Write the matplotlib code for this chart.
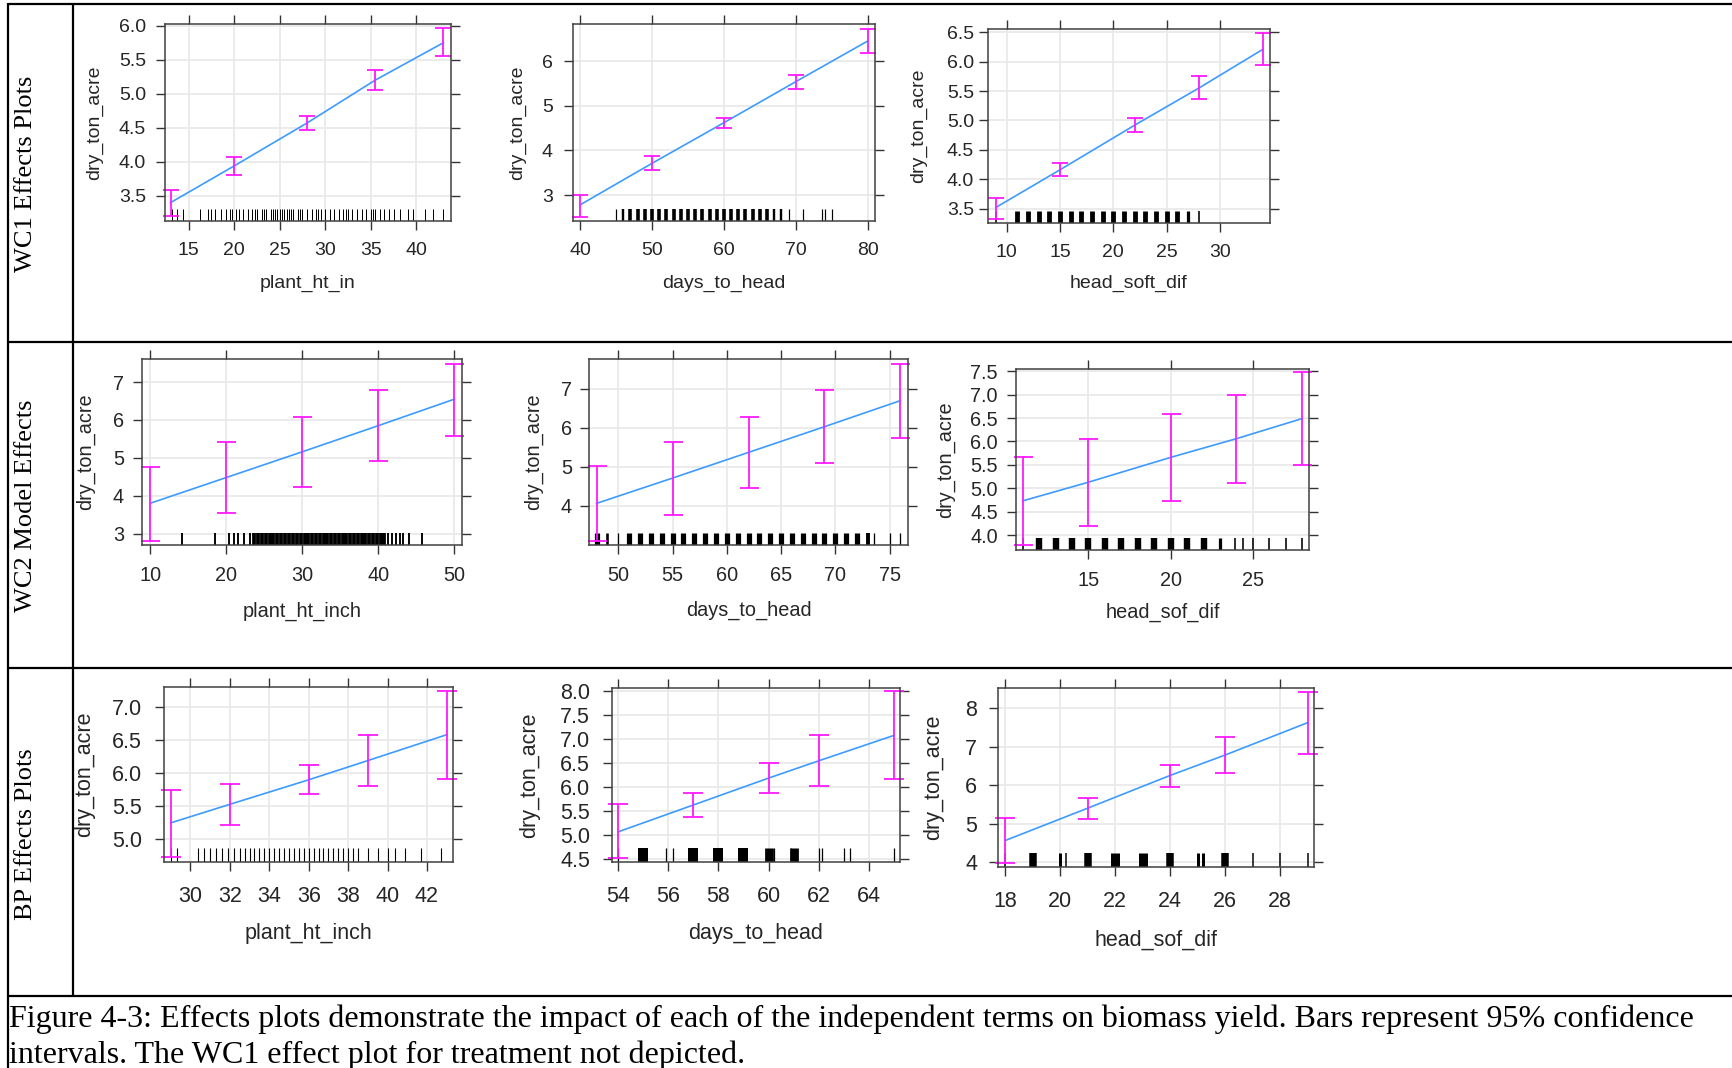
import numpy as np
import matplotlib
matplotlib.use("Agg")
import matplotlib.pyplot as plt

W, H = 1732, 1068
PX = 0.72  # points per pixel at dpi=100

# ---------------- data ----------------
# WC1
wc1_ht_x = [13, 20, 28, 35.5, 43]
wc1_ht_fit = [3.40, 3.94, 4.57, 5.20, 5.75]
wc1_ht_lo = [3.21, 3.80, 4.46, 5.05, 5.55]
wc1_ht_hi = [3.58, 4.07, 4.67, 5.35, 5.96]
wc1_ht_rug = [13.2, 13.7, 14.4, 16.2, 17.1, 17.5, 17.9, 18.5, 19.1, 19.5, 19.8, 20.2, 20.5, 21,
              21.5, 22, 22.25, 22.5, 23, 23.25, 23.5, 24, 24.25, 24.5, 24.75, 25, 25.25, 25.5,
              25.75, 26, 26.25, 26.5, 27, 27.25, 27.5, 28, 28.5, 29, 29.25, 29.5, 30, 30.5, 31,
              31.5, 32, 32.25, 32.5, 33, 33.5, 34, 34.5, 35, 35.25, 35.5, 36, 36.5, 37, 37.6,
              38.2, 39.1, 39.7, 41.0, 41.9, 43.0]

wc1_dth_x = [40, 50, 60, 70, 80]
wc1_dth_fit = [2.78, 3.71, 4.62, 5.54, 6.45]
wc1_dth_lo = [2.52, 3.56, 4.51, 5.38, 6.19]
wc1_dth_hi = [3.00, 3.87, 4.73, 5.69, 6.72]
wc1_dth_rug = [45, 46, 47, 48, 49, 50, 51, 52, 53, 54, 55, 56, 57, 58, 59, 60, 61, 62, 63,
               64, 65, 66, 67, 68, 69, 71, 73.7, 74, 75]
wc1_dth_n = [1, 2, 3, 3, 3, 3, 3, 3, 3, 3, 3, 3, 3, 3, 3, 3, 3, 3, 3,
             3, 3, 3, 2, 2, 1, 1, 1, 1, 1]

wc1_hsd_x = [9, 15, 22, 28, 34]
wc1_hsd_fit = [3.52, 4.16, 4.92, 5.55, 6.21]
wc1_hsd_lo = [3.33, 4.05, 4.80, 5.36, 5.94]
wc1_hsd_hi = [3.68, 4.27, 5.04, 5.75, 6.48]
wc1_hsd_rug = [9, 11, 12, 13, 14, 15, 16, 17, 18, 19, 20, 21, 22, 23, 24, 25, 26, 27, 28]
wc1_hsd_n = [1, 3, 3, 3, 3, 3, 3, 3, 3, 3, 3, 3, 3, 3, 3, 3, 3, 2, 1]

# WC2
wc2_ht_x = [10, 20, 30, 40, 50]
wc2_ht_fit = [3.80, 4.48, 5.16, 5.85, 6.55]
wc2_ht_lo = [2.81, 3.54, 4.23, 4.92, 5.58]
wc2_ht_hi = [4.76, 5.42, 6.08, 6.78, 7.48]
wc2_ht_rug = [14.2, 18.6, 20.4, 21.0, 21.6, 22.4, 23.1, 23.7, 24.2, 24.7, 25.2, 25.7, 26.2,
              26.7, 27.2, 27.7, 28.3, 28.8, 29.3, 29.8, 30.3, 30.8, 31.3, 31.8, 32.3, 32.8,
              33.3, 33.8, 34.3, 34.8, 35.3, 35.8, 36.3, 36.8, 37.3, 37.8, 38.3, 38.8, 39.3,
              39.8, 40.3, 40.8, 41.3, 41.8, 42.3, 42.8, 43.3, 44.0, 45.8]
wc2_ht_n = [1, 1, 1, 1, 1, 1, 1, 2, 2, 2, 2, 2, 2,
            2, 2, 2, 2, 2, 2, 2, 2, 2, 2, 2, 2, 2,
            2, 2, 2, 2, 2, 2, 2, 2, 2, 2, 2, 2, 2,
            2, 2, 2, 1, 1, 1, 1, 1, 1, 1]

wc2_dth_x = [48, 55, 62, 69, 76]
wc2_dth_fit = [4.06, 4.71, 5.37, 6.03, 6.70]
wc2_dth_lo = [3.09, 3.77, 4.45, 5.09, 5.74]
wc2_dth_hi = [5.02, 5.64, 6.29, 6.97, 7.64]
wc2_dth_rug = [48, 49, 50, 51, 52, 53, 54, 55, 56, 57, 58, 59, 60, 61, 62, 63, 64, 65, 66,
               67, 68, 69, 70, 71, 72, 73, 73.6, 75, 76]
wc2_dth_n = [4, 2, 1, 4, 4, 4, 4, 4, 4, 4, 4, 4, 4, 4, 4, 4, 4, 4, 4,
             4, 4, 4, 4, 4, 4, 3, 1, 1, 1]

wc2_hsd_x = [11, 15, 20, 24, 28]
wc2_hsd_fit = [4.73, 5.13, 5.66, 6.06, 6.49]
wc2_hsd_lo = [3.79, 4.20, 4.73, 5.11, 5.49]
wc2_hsd_hi = [5.66, 6.06, 6.58, 7.00, 7.49]
wc2_hsd_rug = [11, 12, 13, 14, 15, 16, 17, 18, 19, 20, 21, 22, 23, 23.9, 24.4, 25, 26, 27, 28]
wc2_hsd_n = [1, 4, 4, 4, 4, 4, 4, 4, 4, 4, 4, 4, 2, 1, 1, 1, 1, 1, 1]

# BP
bp_ht_x = [29, 32, 36, 39, 43]
bp_ht_fit = [5.25, 5.53, 5.90, 6.19, 6.58]
bp_ht_lo = [4.73, 5.22, 5.68, 5.81, 5.91]
bp_ht_hi = [5.74, 5.83, 6.12, 6.57, 7.24]
bp_ht_rug = [29, 29.3, 30.4, 30.7, 31, 31.3, 31.6, 31.9, 32.2, 32.5, 32.75, 33, 33.25, 33.5,
             33.75, 34, 34.25, 34.5, 34.75, 35, 35.25, 35.5, 35.75, 36, 36.25, 36.5, 36.75,
             37, 37.25, 37.5, 37.75, 38, 38.25, 38.5, 39, 39.5, 40, 40.4, 40.9, 41.7, 42.7]

bp_dth_x = [54, 57, 60, 62, 65]
bp_dth_fit = [5.06, 5.62, 6.18, 6.54, 7.07]
bp_dth_lo = [4.51, 5.37, 5.86, 6.01, 6.17]
bp_dth_hi = [5.63, 5.86, 6.50, 7.07, 7.99]
bp_dth_rug = [54, 55, 55.9, 56.2, 57, 58, 59, 60, 60.2, 60.9, 61, 62, 62.15, 63, 63.25, 65]
bp_dth_n = [1, 8, 1, 1, 8, 8, 8, 7, 1, 1, 7, 1, 1, 1, 1, 1]

bp_hsd_x = [18, 21, 24, 26, 29]
bp_hsd_fit = [4.56, 5.40, 6.25, 6.78, 7.62]
bp_hsd_lo = [3.97, 5.12, 5.96, 6.32, 6.81]
bp_hsd_hi = [5.15, 5.66, 6.53, 7.25, 8.41]
bp_hsd_rug = [18, 19, 20, 20.2, 21, 22, 23, 24, 25, 25.2, 26, 27, 28, 29]
bp_hsd_n = [1, 5, 2, 1, 5, 6, 6, 5, 2, 2, 5, 1, 1, 1]

row_labels = ["WC1 Effects Plots", "WC2 Model Effects", "BP Effects Plots"]
caption = ["Figure 4-3: Effects plots demonstrate the impact of each of the independent terms "
           "on biomass yield. Bars represent 95% confidence",
           "intervals. The WC1 effect plot for treatment not depicted."]

# ---------------- panel layout (pixel boxes: left, top, right, bottom) ----------------
row1 = dict(fs=14, cap=8, rugh=12, xpad=21)
row2 = dict(fs=14.3, cap=9.5, rugh=12, xpad=21)
row3 = dict(fs=15.5, cap=10, rugh=14, xpad=24)

panels = [
    dict(row1, d=(wc1_ht_x, wc1_ht_fit, wc1_ht_lo, wc1_ht_hi, wc1_ht_rug, None), xl="plant_ht_in",
         box=(165, 24, 451, 221), xlim=(12.39, 43.83), ylim=(3.13, 6.025),
         xt=[15, 20, 25, 30, 35, 40], yt=[3.5, 4.0, 4.5, 5.0, 5.5, 6.0],
         yld=70, xld=62, ypad=19, rugw=1.0),
    dict(row1, d=(wc1_dth_x, wc1_dth_fit, wc1_dth_lo, wc1_dth_hi, wc1_dth_rug, wc1_dth_n),
         xl="days_to_head",
         box=(573, 24, 875, 221), xlim=(39.03, 81.0), ylim=(2.42, 6.83),
         xt=[40, 50, 60, 70, 80], yt=[3, 4, 5, 6],
         yld=55, xld=62, ypad=20, rugw=1.2),
    dict(row1, d=(wc1_hsd_x, wc1_hsd_fit, wc1_hsd_lo, wc1_hsd_hi, wc1_hsd_rug, wc1_hsd_n),
         xl="head_soft_dif",
         box=(988, 29, 1270, 223), xlim=(8.26, 34.67), ylim=(3.255, 6.556),
         xt=[10, 15, 20, 25, 30], yt=[3.5, 4.0, 4.5, 5.0, 5.5, 6.0, 6.5],
         yld=69, xld=60, ypad=14, rugw=1.6),
    dict(row2, d=(wc2_ht_x, wc2_ht_fit, wc2_ht_lo, wc2_ht_hi, wc2_ht_rug, wc2_ht_n),
         xl="plant_ht_inch",
         box=(142, 359, 462, 545), xlim=(8.94, 51.0), ylim=(2.70, 7.61),
         xt=[10, 20, 30, 40, 50], yt=[3, 4, 5, 6, 7],
         yld=57, xld=66, ypad=18, rugw=1.9),
    dict(row2, d=(wc2_dth_x, wc2_dth_fit, wc2_dth_lo, wc2_dth_hi, wc2_dth_rug, wc2_dth_n),
         xl="days_to_head",
         box=(589, 359, 908, 545), xlim=(47.3, 76.7), ylim=(2.99, 7.77),
         xt=[50, 55, 60, 65, 70, 75], yt=[4, 5, 6, 7],
         yld=56, xld=65, ypad=17, rugw=1.3),
    dict(row2, d=(wc2_hsd_x, wc2_hsd_fit, wc2_hsd_lo, wc2_hsd_hi, wc2_hsd_rug, wc2_hsd_n),
         xl="head_sof_dif",
         box=(1016, 369, 1309, 550), xlim=(10.59, 28.42), ylim=(3.68, 7.55),
         xt=[15, 20, 25], yt=[4.0, 4.5, 5.0, 5.5, 6.0, 6.5, 7.0, 7.5],
         yld=70, xld=62, ypad=18, rugw=1.6),
    dict(row3, d=(bp_ht_x, bp_ht_fit, bp_ht_lo, bp_ht_hi, bp_ht_rug, None), xl="plant_ht_inch",
         box=(164, 687, 453, 862), xlim=(28.66, 43.32), ylim=(4.66, 7.30),
         xt=[30, 32, 34, 36, 38, 40, 42], yt=[5.0, 5.5, 6.0, 6.5, 7.0],
         yld=79, xld=71, ypad=22, rugw=1.1),
    dict(row3, d=(bp_dth_x, bp_dth_fit, bp_dth_lo, bp_dth_hi, bp_dth_rug, bp_dth_n),
         xl="days_to_head",
         box=(612, 688, 900, 862), xlim=(53.75, 65.25), ylim=(4.43, 8.06),
         xt=[54, 56, 58, 60, 62, 64], yt=[4.5, 5.0, 5.5, 6.0, 6.5, 7.0, 7.5, 8.0],
         yld=82, xld=71, ypad=22, rugw=1.25),
    dict(row3, d=(bp_hsd_x, bp_hsd_fit, bp_hsd_lo, bp_hsd_hi, bp_hsd_rug, bp_hsd_n),
         xl="head_sof_dif",
         box=(998, 688, 1314, 867), xlim=(17.73, 29.23), ylim=(3.87, 8.52),
         xt=[18, 20, 22, 24, 26, 28], yt=[4, 5, 6, 7, 8],
         yld=64, xld=73, ypad=21, rugw=1.5),
]

fig = plt.figure(figsize=(W / 100, H / 100), dpi=100)

# background axes in pixel units for the table frame and serif text
bg = fig.add_axes([0, 0, 1, 1])
bg.set_xlim(0, W)
bg.set_ylim(H, 0)
bg.axis("off")

frame_kw = dict(color="black", lw=1.6, solid_capstyle="butt")
bg.plot([7.5, W], [3.5, 3.5], **frame_kw)
for yy in [341.5, 668, 996]:
    bg.plot([7.5, W], [yy, yy], **frame_kw)
bg.plot([7.5, 7.5], [3, H], **frame_kw)
bg.plot([72.5, 72.5], [3, 996], **frame_kw)

serif = "Liberation Serif"
for lab, yc in zip(row_labels, [174, 506, 834]):
    bg.text(26, yc, lab, rotation=90, ha="center", va="center", family=serif, fontsize=19)

bg.text(9, 1027, caption[0], ha="left", va="baseline", family=serif, fontsize=23)
bg.text(9, 1063, caption[1], ha="left", va="baseline", family=serif, fontsize=23)

tick_len = 9
sans = "Liberation Sans"
for p in panels:
    x, fit, lo, hi, rug, rug_n = p["d"]
    l, t, r, b = p["box"]
    ax = fig.add_axes([l / W, 1 - b / H, (r - l) / W, (b - t) / H])

    ax.set_xlim(*p["xlim"])
    ax.set_ylim(*p["ylim"])
    ax.set_xticks(p["xt"])
    ax.set_yticks(p["yt"])
    yfmt = "%.1f" if any(v % 1 for v in p["yt"]) else "%d"
    ax.set_xticklabels(["%d" % v for v in p["xt"]], family=sans, fontsize=p["fs"])
    ax.set_yticklabels([yfmt % v for v in p["yt"]], family=sans, fontsize=p["fs"])

    ylen = min(tick_len, p["ypad"] - 5)
    ax.tick_params(axis="x", direction="out", length=tick_len * PX, width=1.0, color="#333333",
                   labelcolor="#262626", top=True, bottom=True, pad=(p["xpad"] - tick_len) * PX)
    ax.tick_params(axis="y", direction="out", length=ylen * PX, width=1.0, color="#333333",
                   labelcolor="#262626", left=True, right=True, pad=(p["ypad"] - ylen) * PX)
    for s in ax.spines.values():
        s.set_color("#404040")
        s.set_linewidth(1.1)
    ax.grid(True, color="#e9e9e9", lw=1.3)
    ax.set_axisbelow(True)

    # rug of observed values
    n = np.ones(len(rug)) if rug_n is None else np.asarray(rug_n)
    ax.vlines(rug, 0, p["rugh"] / (b - t), transform=ax.get_xaxis_transform(), color="black",
              lw=p["rugw"] * n * PX)

    # fitted effect line and 95% CI bars
    ax.plot(x, fit, color="#3d9bff", lw=1.2)
    fit_a = np.asarray(fit)
    ax.errorbar(x, fit, yerr=[fit_a - np.asarray(lo), np.asarray(hi) - fit_a], fmt="none",
                ecolor="#ff1aff", elinewidth=1.3, capsize=p["cap"] * PX, capthick=1.3,
                clip_on=False)

    ax.set_ylabel("dry_ton_acre", family=sans, fontsize=p["fs"], color="#262626")
    ax.set_xlabel(p["xl"], family=sans, fontsize=p["fs"], color="#262626")
    ax.yaxis.set_label_coords(-p["yld"] / (r - l), 0.5)
    ax.yaxis.label.set_va("center")
    ax.xaxis.set_label_coords(0.5, -p["xld"] / (b - t))
    ax.xaxis.label.set_va("center")

fig.savefig("out.png", dpi=100)
